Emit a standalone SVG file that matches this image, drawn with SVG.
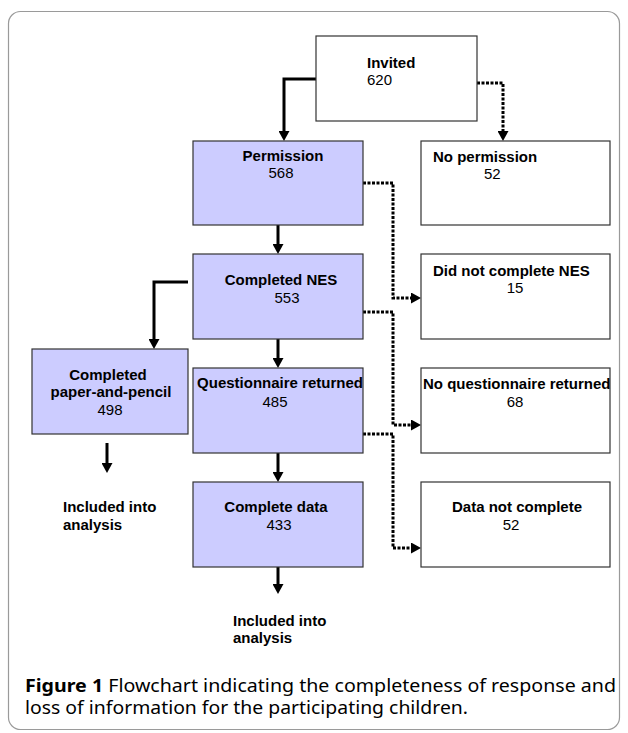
<svg xmlns="http://www.w3.org/2000/svg" width="628" height="733" viewBox="0 0 628 733">
<style>
.frame{fill:#fff;stroke:#9a9a9a;stroke-width:1.2}
.box{stroke:#333;stroke-width:1.2}
.blue{fill:#ccccff}
.white{fill:#fff}
.b{font-family:"Liberation Sans",Arial,sans-serif;font-size:15px;font-weight:bold;fill:#000}
.r{font-family:"Liberation Sans",Arial,sans-serif;font-size:15px;fill:#000}
.solid{fill:none;stroke:#000;stroke-width:3}
.dot{fill:none;stroke:#000;stroke-width:3;stroke-dasharray:3 1.5}
.cap{font-family:"Noto Sans","Open Sans",sans-serif;font-size:18.5px;fill:#000}
</style>
<defs>
<marker id="ah" markerUnits="userSpaceOnUse" markerWidth="11" markerHeight="11" refX="0" refY="5.5" orient="auto" viewBox="0 0 11 11">
<path d="M0,0 L10,5.5 L0,11 z" fill="#000"/>
</marker>
</defs>
<rect class="frame" x="8.5" y="11.5" width="611" height="718" rx="12"/>

<g id="connectors">
<path class="solid" d="M316,79 H284 V131" marker-end="url(#ah)"/>
<path class="dot" d="M477,83 H503 V131" marker-end="url(#ah)"/>
<path class="solid" d="M278,225 V244" marker-end="url(#ah)"/>
<path class="dot" d="M363,183 H393 V298 H411" marker-end="url(#ah)"/>
<path class="solid" d="M188,282 H154 V339" marker-end="url(#ah)"/>
<path class="dot" d="M363,312 H393 V425 H411" marker-end="url(#ah)"/>
<path class="solid" d="M278,339 V358" marker-end="url(#ah)"/>
<path class="dot" d="M363,434 H393 V548 H411" marker-end="url(#ah)"/>
<path class="solid" d="M278,453 V472" marker-end="url(#ah)"/>
<path class="solid" d="M278,567 V584" marker-end="url(#ah)"/>
<path class="solid" d="M107,443 V463" marker-end="url(#ah)"/>
</g>

<g id="invited">
<rect class="box white" x="316" y="36" width="161" height="85"/>
<text class="b" x="367" y="68">Invited</text>
<text class="r" x="367" y="85">620</text>
</g>
<g id="permission">
<rect class="box blue" x="193" y="141" width="170" height="84"/>
<text class="b" x="283" y="161" text-anchor="middle">Permission</text>
<text class="r" x="281" y="178" text-anchor="middle">568</text>
</g>
<g id="no-permission">
<rect class="box white" x="421" y="141" width="189" height="84"/>
<text class="b" x="433" y="162">No permission</text>
<text class="r" x="484" y="179">52</text>
</g>
<g id="completed-nes">
<rect class="box blue" x="193" y="254" width="170" height="85"/>
<text class="b" x="281" y="285" text-anchor="middle">Completed NES</text>
<text class="r" x="287" y="303" text-anchor="middle">553</text>
</g>
<g id="did-not-complete-nes">
<rect class="box white" x="421" y="254" width="189" height="85"/>
<text class="b" x="433" y="276">Did not complete NES</text>
<text class="r" x="515" y="293" text-anchor="middle">15</text>
</g>
<g id="paper-and-pencil">
<rect class="box blue" x="32" y="349" width="156" height="85"/>
<text class="b" x="108" y="380" text-anchor="middle">Completed</text>
<text class="b" x="111" y="397" text-anchor="middle">paper-and-pencil</text>
<text class="r" x="110" y="415" text-anchor="middle">498</text>
</g>
<g id="questionnaire-returned">
<rect class="box blue" x="193" y="368" width="170" height="85"/>
<text class="b" x="280" y="388" text-anchor="middle">Questionnaire returned</text>
<text class="r" x="275" y="407" text-anchor="middle">485</text>
</g>
<g id="no-questionnaire-returned">
<rect class="box white" x="421" y="368" width="189" height="85"/>
<text class="b" x="423" y="389">No questionnaire returned</text>
<text class="r" x="515" y="407" text-anchor="middle">68</text>
</g>
<g id="complete-data">
<rect class="box blue" x="193" y="482" width="170" height="85"/>
<text class="b" x="276" y="512" text-anchor="middle">Complete data</text>
<text class="r" x="279" y="530" text-anchor="middle">433</text>
</g>
<g id="data-not-complete">
<rect class="box white" x="421" y="482" width="189" height="85"/>
<text class="b" x="517" y="512" text-anchor="middle">Data not complete</text>
<text class="r" x="511" y="530" text-anchor="middle">52</text>
</g>
<g id="included-left">
<text class="b" x="63" y="512">Included into</text>
<text class="b" x="63" y="530">analysis</text>
</g>
<g id="included-bottom">
<text class="b" x="233" y="626">Included into</text>
<text class="b" x="233" y="643">analysis</text>
</g>
<g id="caption">
<text class="cap" x="25" y="692" textLength="591" lengthAdjust="spacingAndGlyphs"><tspan font-weight="bold">Figure 1</tspan> Flowchart indicating the completeness of response and</text>
<text class="cap" x="25" y="714" textLength="443" lengthAdjust="spacingAndGlyphs">loss of information for the participating children.</text>
</g>
</svg>
